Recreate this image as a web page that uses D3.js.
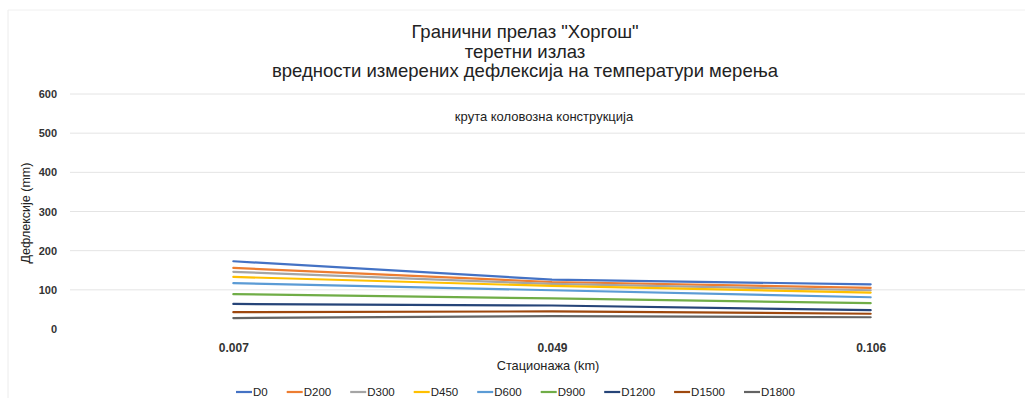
<!DOCTYPE html>
<html><head><meta charset="utf-8">
<script src="https://cdn.jsdelivr.net/npm/d3@7"></script>
<style>body{margin:0;background:#fff;}svg{display:block;font-family:"Liberation Sans",Arial,sans-serif;}</style>
</head><body><svg id="c" width="1025" height="398"></svg>
<script>
const categories = ["0.007", "0.049", "0.106"];
const seriesNames = ["D0","D200","D300","D450","D600","D900","D1200","D1500","D1800"];
const D0    = [173, 126, 114];
const D200  = [156, 120, 105];
const D300  = [146, 115, 99];
const D450  = [133, 110, 93];
const D600  = [117, 99, 81];
const D900  = [89, 78, 66];
const D1200 = [64, 60, 48];
const D1500 = [43, 45, 39];
const D1800 = [28, 33, 30];
const yTicks = [0, 100, 200, 300, 400, 500, 600];
const colors = ["#4472C4","#ED7D31","#A5A5A5","#FFC000","#5B9BD5","#70AD47","#264478","#9E480E","#636363"];
const titleLines = ["Гранични прелаз \"Хоргош\"", "теретни излаз", "вредности измерених дефлексија на температури мерења"];
const subtitle = "крута коловозна конструкција";
const yTitle = "Дефлексије (mm)";
const xTitle = "Стационажа (km)";

const series = [D0,D200,D300,D450,D600,D900,D1200,D1500,D1800].map((v,i)=>({name:seriesNames[i], values:v, color:colors[i]}));

const svg = d3.select("#c");
svg.append("line").attr("x1",8).attr("x2",8).attr("y1",10).attr("y2",398).attr("stroke","#ececec");
svg.append("line").attr("x1",8).attr("x2",1025).attr("y1",10).attr("y2",10).attr("stroke","#f0f0f0");

const x = d3.scalePoint().domain(categories).range([74, 1030]).padding(0.5);
const y = d3.scaleLinear().domain([0, 600]).range([329, 94]);

svg.append("g").selectAll("line").data(yTicks.filter(t=>t>0)).join("line")
  .attr("x1", 70).attr("x2", 1025).attr("y1", d=>y(d)).attr("y2", d=>y(d))
  .attr("stroke", "#e4e4e4").attr("stroke-width", 1);

const yAxis = svg.append("g").attr("transform","translate(57,0)")
  .call(d3.axisLeft(y).tickValues(yTicks).tickSize(0).tickPadding(0));
yAxis.select(".domain").remove();
yAxis.selectAll("text").attr("font-size", 11).attr("font-weight","bold").attr("fill","#333").attr("font-family","Liberation Sans, Arial, sans-serif");

const xAxis = svg.append("g").attr("transform","translate(0,343)")
  .call(d3.axisBottom(x).tickSize(0).tickPadding(0));
xAxis.select(".domain").remove();
xAxis.selectAll("text").attr("font-size", 12).attr("font-weight","bold").attr("fill","#333").attr("font-family","Liberation Sans, Arial, sans-serif");

const line = d3.line().x((d,i)=>x(categories[i])).y(d=>y(d));
svg.append("g").selectAll("path").data(series).join("path")
  .attr("d", d=>line(d.values)).attr("fill","none")
  .attr("stroke", d=>d.color).attr("stroke-width", 2.2).attr("stroke-linecap","round");

const tg = svg.append("g").attr("text-anchor","middle").attr("fill","#222");
titleLines.forEach((t,i)=>{
  tg.append("text").attr("x",525).attr("y",38+i*19.5).attr("font-size",18.5).text(t);
});
svg.append("text").attr("x",544).attr("y",121).attr("text-anchor","middle")
  .attr("font-size",13).attr("fill","#222").text(subtitle);

svg.append("text").attr("transform","translate(30,213) rotate(-90)").attr("text-anchor","middle")
  .attr("font-size",12.5).attr("fill","#222").text(yTitle);
svg.append("text").attr("x",548).attr("y",370).attr("text-anchor","middle")
  .attr("font-size",12.8).attr("fill","#222").text(xTitle);

const lg = svg.append("g").attr("transform","translate(0,392)");
let cx = 236;
series.forEach(s=>{
  lg.append("line").attr("x1",cx).attr("x2",cx+16).attr("y1",0).attr("y2",0).attr("stroke",s.color).attr("stroke-width",2.2);
  const t = lg.append("text").attr("x",cx+17).attr("y",4).attr("font-size",11.5).attr("fill","#222").text(s.name);
  const w = t.node().getComputedTextLength();
  cx += 17 + w + 19;
});
</script></body></html>
